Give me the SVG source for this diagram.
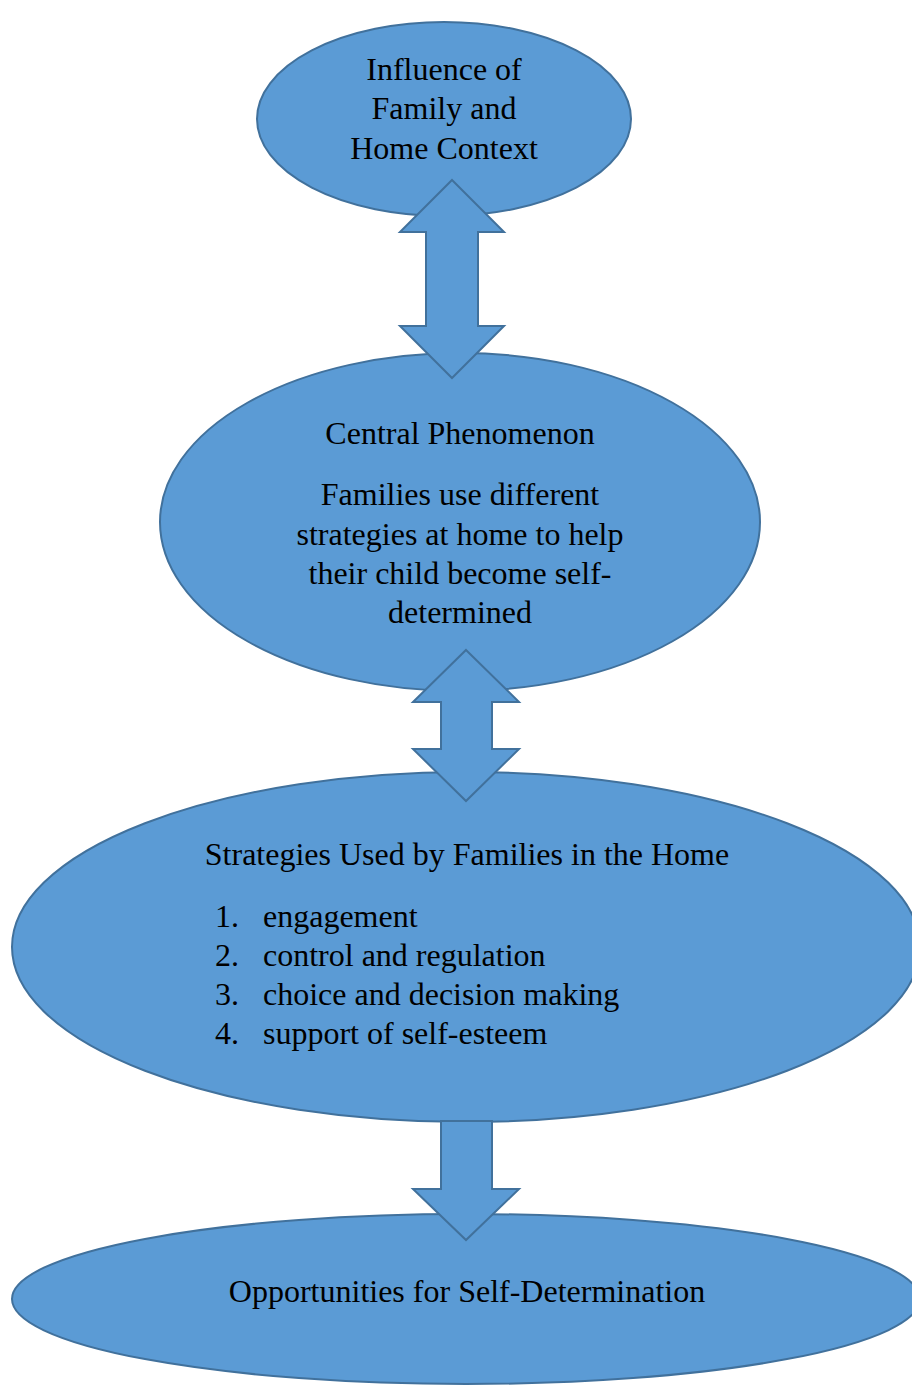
<svg xmlns="http://www.w3.org/2000/svg" width="912" height="1385" viewBox="0 0 912 1385">
<style>
.shape{fill:#5B9BD5;stroke:#41719C;stroke-width:2;stroke-linejoin:miter}
.t{font-size:32px;fill:#000}
.c{text-anchor:middle}
</style>
<rect width="912" height="1385" fill="#fff"/>
<g font-family="'Liberation Serif', 'Times New Roman', serif">
<g id="node-influence">
<ellipse class="shape" cx="444" cy="119" rx="187" ry="97"/>
<text class="t c" x="444" y="80">Influence of</text>
<text class="t c" x="444" y="119">Family and</text>
<text class="t c" x="444" y="158.5">Home Context</text>
</g>
<g id="node-central">
<ellipse class="shape" cx="460" cy="522" rx="300" ry="169"/>
<text class="t c" x="460" y="444">Central Phenomenon</text>
<text class="t c" x="460" y="505">Families use different</text>
<text class="t c" x="460" y="545">strategies at home to help</text>
<text class="t c" x="460" y="584">their child become self-</text>
<text class="t c" x="460" y="623">determined</text>
</g>
<g id="node-strategies">
<ellipse class="shape" cx="466" cy="947" rx="454" ry="175"/>
<text class="t c" x="467" y="865">Strategies Used by Families in the Home</text>
<text class="t" x="215" y="927">1.</text><text class="t" x="263" y="927">engagement</text>
<text class="t" x="215" y="966">2.</text><text class="t" x="263" y="966">control and regulation</text>
<text class="t" x="215" y="1005">3.</text><text class="t" x="263" y="1005">choice and decision making</text>
<text class="t" x="215" y="1044">4.</text><text class="t" x="263" y="1044">support of self-esteem</text>
</g>
<g id="node-opportunities">
<ellipse class="shape" cx="466" cy="1299" rx="454" ry="85"/>
<text class="t c" x="467" y="1302">Opportunities for Self-Determination</text>
</g>
</g>
<g id="connectors">
<path class="shape" d="M452 180 L504 232 L478 232 L478 326 L504 326 L452 378 L400 326 L426 326 L426 232 L400 232 Z"/>
<path class="shape" d="M466 650 L519 702 L492 702 L492 749 L519 749 L466 801 L413 749 L441 749 L441 702 L413 702 Z"/>
<path class="shape" d="M441 1121 L492 1121 L492 1189 L519 1189 L466 1240 L413 1189 L441 1189 Z"/>
</g>
</svg>
